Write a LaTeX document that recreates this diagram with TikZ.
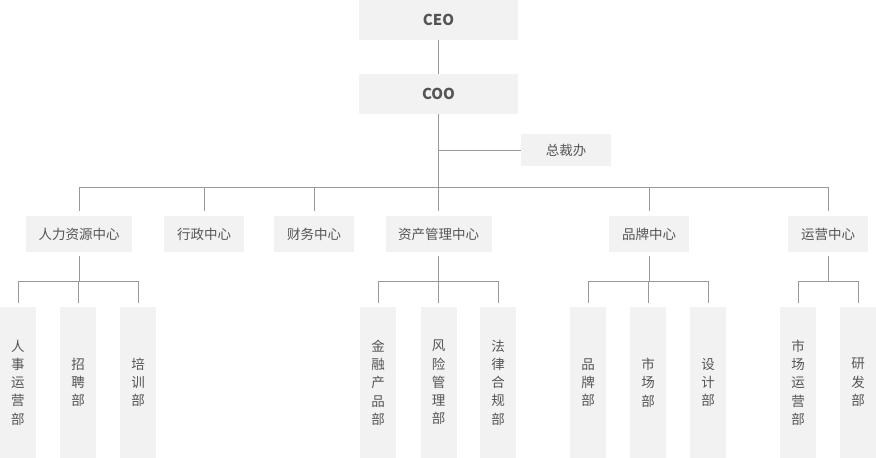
\documentclass[tikz,border=0pt]{standalone}
\usepackage{fontspec}
\setmainfont{Noto Sans CJK SC}
\definecolor{boxgray}{HTML}{F2F2F2}
\definecolor{linegray}{HTML}{999999}
\definecolor{txtgray}{HTML}{555555}
\begin{document}
\begin{tikzpicture}[x=1pt,y=-1pt,
  box/.style={fill=boxgray, inner sep=0pt, text=txtgray, minimum height=36pt,
    font=\fontsize{13.5}{16}\selectfont},
  topbox/.style={box, minimum width=159pt, minimum height=40pt,
    font=\fontsize{15}{18}\selectfont\bfseries},
  leaf/.style={fill=boxgray, inner sep=0pt, text=txtgray, minimum width=36pt,
    minimum height=151pt, align=center, font=\fontsize{13.5}{18.3}\selectfont},
  conn/.style={draw=linegray, line width=1pt}]
\useasboundingbox (0,0) rectangle (876,458);
% top
\node[topbox] (ceo) at (438.5,20) {CEO};
\node[topbox] (coo) at (438.5,94) {COO};
\node[box, minimum width=90pt, minimum height=32pt] (zcb) at (566,150) {总裁办};
% centres
\node[box, minimum width=106pt] (hr) at (79,234) {人力资源中心};
\node[box, minimum width=80pt] (adm) at (204,234) {行政中心};
\node[box, minimum width=80pt] (fin) at (314,234) {财务中心};
\node[box, minimum width=106pt] (ast) at (438.5,234) {资产管理中心};
\node[box, minimum width=80pt] (brd) at (649,234) {品牌中心};
\node[box, minimum width=80pt] (ops) at (828,234) {运营中心};
% leaves
\node[leaf] (l1) at (18,382.5) {人\\事\\运\\营\\部};
\node[leaf] (l2) at (78,382.5) {招\\聘\\部};
\node[leaf] (l3) at (138,382.5) {培\\训\\部};
\node[leaf] (l4) at (378,382.5) {金\\融\\产\\品\\部};
\node[leaf] (l5) at (438.5,382.5) {风\\险\\管\\理\\部};
\node[leaf] (l6) at (498,382.5) {法\\律\\合\\规\\部};
\node[leaf] (l7) at (588,382.5) {品\\牌\\部};
\node[leaf] (l8) at (648,382.5) {市\\场\\部};
\node[leaf] (l9) at (708,382.5) {设\\计\\部};
\node[leaf] (l10) at (798,382.5) {市\\场\\运\\营\\部};
\node[leaf] (l11) at (858,382.5) {研\\发\\部};
\coordinate (bar) at (0,187);
\coordinate (sub) at (0,281);
% connectors top
\draw[conn] (ceo) -- (coo);
\draw[conn, shorten >=5pt] (coo) -- (ast);
\draw[conn] (zcb.west) -- (zcb.west -| coo.south);
\draw[conn] (hr |- bar) -- (ops |- bar);
\foreach \n in {hr,adm,fin,brd,ops}
  \draw[conn, shorten >=5pt] (\n |- bar) -- (\n.north);
% sub connectors
\foreach \p/\a/\b/\c in {hr/l1/l2/l3, ast/l4/l5/l6, brd/l7/l8/l9}{
  \draw[conn, shorten <=4pt] (\p.south) -- (\p.south |- sub);
  \draw[conn] (\a |- sub) -- (\c |- sub);
  \foreach \q in {\a,\b,\c}
    \draw[conn, shorten >=4pt] (\q |- sub) -- (\q.north);
}
\draw[conn, shorten <=4pt] (ops.south) -- (ops.south |- sub);
\draw[conn] (l10 |- sub) -- (l11 |- sub);
\foreach \q in {l10,l11}
  \draw[conn, shorten >=4pt] (\q |- sub) -- (\q.north);
\end{tikzpicture}
\end{document}
